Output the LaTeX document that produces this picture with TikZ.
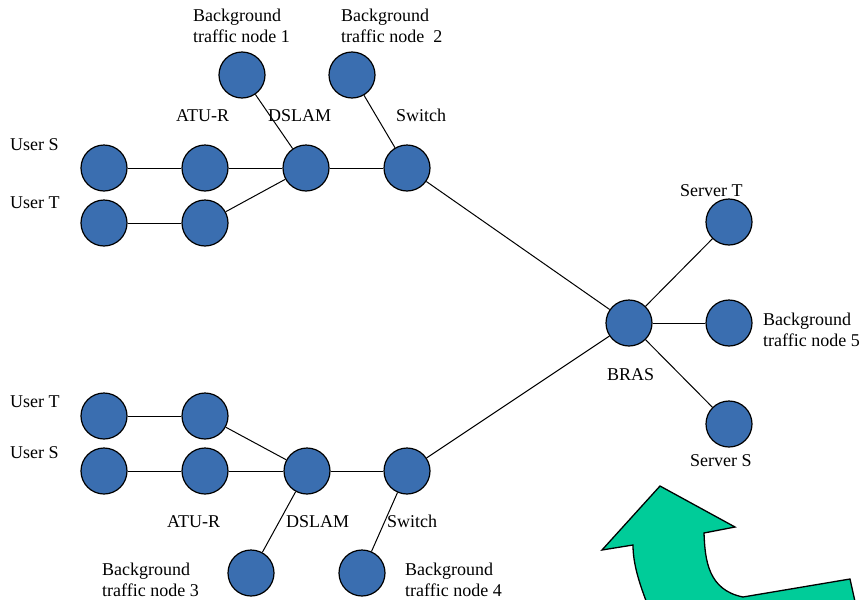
\documentclass[tikz,border=0pt]{standalone}
\usepackage{fontspec}
\setmainfont{Liberation Serif}
\definecolor{nodeblue}{RGB}{58,110,176}
\definecolor{arrowgreen}{RGB}{0,204,153}
\begin{document}
\begin{tikzpicture}[x=1pt,y=-1pt,
  netnode/.style={circle,draw=black,line width=1.2pt,fill=nodeblue,minimum size=46pt,inner sep=0pt},
  link/.style={draw=black,line width=1pt},
  lbl/.style={inner sep=0pt,anchor=base west,font=\fontsize{18}{21.5}\selectfont}]
\useasboundingbox (0,0) rectangle (863,600);
\clip (0,0) rectangle (863,600);
\fill[white] (0,0) rectangle (863,600);

% upper access network
\node[netnode] (us1) at (104,168) {};
\node[netnode] (ut1) at (104,223) {};
\node[netnode] (as1) at (205,168) {};
\node[netnode] (at1) at (205,223) {};
\node[netnode] (dsl1) at (306,168) {};
\node[netnode] (sw1) at (407,168) {};
\node[netnode] (bg1) at (242,75) {};
\node[netnode] (bg2) at (352,75) {};

% lower access network
\node[netnode] (ut2) at (104,416) {};
\node[netnode] (us2) at (104,471) {};
\node[netnode] (at2) at (205,416) {};
\node[netnode] (as2) at (205,471) {};
\node[netnode] (dsl2) at (307,471) {};
\node[netnode] (sw2) at (407,471) {};
\node[netnode] (bg3) at (251,573) {};
\node[netnode] (bg4) at (362,573) {};

% core side
\node[netnode] (bras) at (629,323) {};
\node[netnode] (svt) at (729,222) {};
\node[netnode] (bg5) at (729,323) {};
\node[netnode] (svs) at (729,424) {};

% links
\draw[link] (us1) -- (as1);
\draw[link] (as1) -- (dsl1);
\draw[link] (ut1) -- (at1);
\draw[link] (at1) -- (dsl1);
\draw[link] (dsl1) -- (sw1);
\draw[link] (bg1) -- (dsl1);
\draw[link] (bg2) -- (sw1);
\draw[link] (sw1) -- (bras);

\draw[link] (ut2) -- (at2);
\draw[link] (at2) -- (dsl2);
\draw[link] (us2) -- (as2);
\draw[link] (as2) -- (dsl2);
\draw[link] (dsl2) -- (sw2);
\draw[link] (bg3) -- (dsl2);
\draw[link] (bg4) -- (sw2);
\draw[link] (sw2) -- (bras);

\draw[link] (bras) -- (svt);
\draw[link] (bras) -- (bg5);
\draw[link] (bras) -- (svs);

% labels
\node[lbl] (l-bg1) at (193,21) {\begin{tabular}[t]{@{}l@{}}Background\\traffic node 1\end{tabular}};
\node[lbl] (l-bg2) at (341,21) {\begin{tabular}[t]{@{}l@{}}Background\\traffic node\ \ 2\end{tabular}};
\node[lbl] (l-atu1) at (176,121) {ATU-R};
\node[lbl] (l-dsl1) at (268,121) {DSLAM};
\node[lbl] (l-sw1) at (396,121) {Switch};
\node[lbl] (l-us1) at (10,150) {User S};
\node[lbl] (l-ut1) at (10,208) {User T};

\node[lbl] (l-ut2) at (10,407) {User T};
\node[lbl] (l-us2) at (10,458) {User S};
\node[lbl] (l-atu2) at (167,527) {ATU-R};
\node[lbl] (l-dsl2) at (286,527) {DSLAM};
\node[lbl] (l-sw2) at (387,527) {Switch};
\node[lbl] (l-bg3) at (102,575) {\begin{tabular}[t]{@{}l@{}}Background\\traffic node 3\end{tabular}};
\node[lbl] (l-bg4) at (405,575) {\begin{tabular}[t]{@{}l@{}}Background\\traffic node 4\end{tabular}};

\node[lbl] (l-svt) at (680,196) {Server T};
\node[lbl] (l-bg5) at (763,325) {\begin{tabular}[t]{@{}l@{}}Background\\traffic node 5\end{tabular}};
\node[lbl] (l-bras) at (607,380) {BRAS};
\node[lbl] (l-svs) at (690,466) {Server S};

% bent block arrow
\draw[fill=arrowgreen,draw=black,line width=1.3pt,line join=miter]
  (660,486) -- (735,527) -- (704,533)
  .. controls (705,560) and (708,590) .. (743,597)
  -- (850,579) -- (856,606) -- (648,606)
  .. controls (640,585) and (633,565) .. (633,545)
  -- (602,550) -- cycle;
\end{tikzpicture}
\end{document}
